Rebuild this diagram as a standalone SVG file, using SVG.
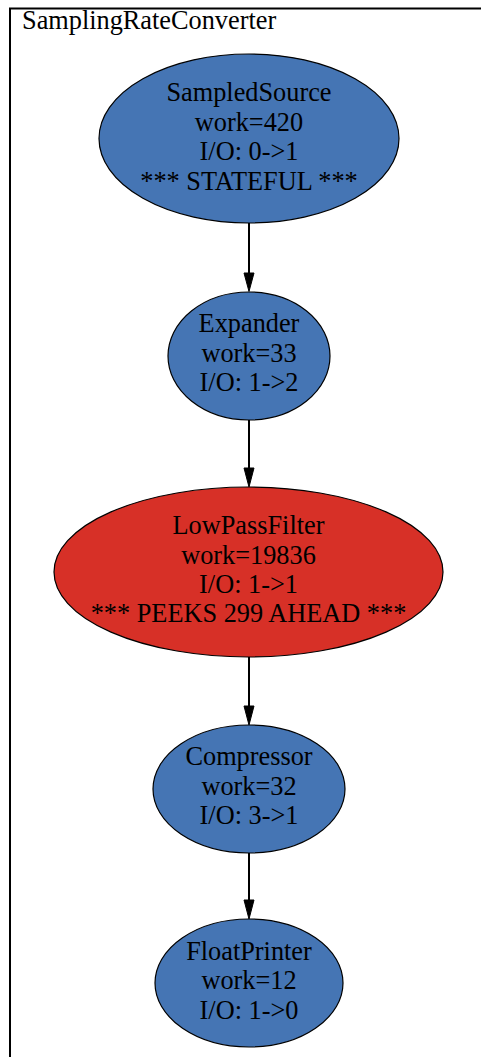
<svg xmlns="http://www.w3.org/2000/svg" width="481" height="1057" viewBox="0 0 481 1057">
<style>
text{font-family:"Liberation Serif","Times New Roman",serif;font-size:26.3px;fill:#000;text-anchor:middle}
.t{text-anchor:start}
.n ellipse{stroke:#000;stroke-width:1.2}
.blue{fill:#4575b4}
.red{fill:#d73027}
.e line{stroke:#000;stroke-width:2}
.e polygon{fill:#000;stroke:#000;stroke-width:1}
</style>
<rect width="481" height="1057" fill="#fff"/>
<g id="cluster">
<polyline points="10,1060 10,8.5 485,8.5" fill="none" stroke="#000" stroke-width="2"/>
<text class="t" x="22" y="29">SamplingRateConverter</text>
</g>
<g class="e" id="connectors">
<line x1="249" y1="223" x2="249" y2="274"/>
<polygon points="244,273 254,273 249,291.5"/>
<line x1="249" y1="420" x2="249" y2="469"/>
<polygon points="244,468 254,468 249,487"/>
<line x1="249" y1="657" x2="249" y2="707"/>
<polygon points="244,706 254,706 249,725"/>
<line x1="249" y1="853" x2="249" y2="901"/>
<polygon points="244,900 254,900 249,919"/>
</g>
<g class="n" id="SampledSource">
<ellipse class="blue" cx="249" cy="138.5" rx="150" ry="84.5"/>
<text x="249" y="101">SampledSource</text>
<text x="249" y="130.5">work=420</text>
<text x="249" y="160">I/O: 0-&gt;1</text>
<text x="249" y="189.5">*** STATEFUL ***</text>
</g>
<g class="n" id="Expander">
<ellipse class="blue" cx="249" cy="356" rx="81" ry="64"/>
<text x="249" y="332">Expander</text>
<text x="249" y="361.5">work=33</text>
<text x="249" y="391">I/O: 1-&gt;2</text>
</g>
<g class="n" id="LowPassFilter">
<ellipse class="red" cx="248.5" cy="572" rx="194.5" ry="85"/>
<text x="248.5" y="534">LowPassFilter</text>
<text x="248.5" y="563.5">work=19836</text>
<text x="248.5" y="593">I/O: 1-&gt;1</text>
<text x="248.5" y="622">*** PEEKS 299 AHEAD ***</text>
</g>
<g class="n" id="Compressor">
<ellipse class="blue" cx="249" cy="789" rx="96" ry="64"/>
<text x="249" y="765">Compressor</text>
<text x="249" y="794.5">work=32</text>
<text x="249" y="824">I/O: 3-&gt;1</text>
</g>
<g class="n" id="FloatPrinter">
<ellipse class="blue" cx="249" cy="983" rx="94" ry="64"/>
<text x="249" y="959.5">FloatPrinter</text>
<text x="249" y="989">work=12</text>
<text x="249" y="1018.5">I/O: 1-&gt;0</text>
</g>
</svg>
